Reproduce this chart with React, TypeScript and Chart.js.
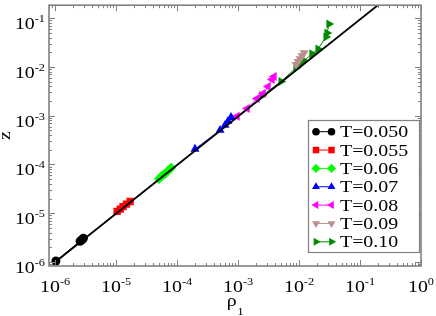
import React, { useEffect, useRef } from 'react';
import { Chart, registerables } from 'chart.js';

Chart.register(...registerables);

// axis ranges (log scales)
const xMin = 7.94e-7; // 10^-6.1
const xMax = 1;
const yMin = 8.3e-7; // 10^-6.08
const yMax = 0.184; // 10^-0.735

const xDecades = [-6, -5, -4, -3, -2, -1, 0];
const yDecades = [-6, -5, -4, -3, -2, -1];

const seriesLabels = ['T=0.050', 'T=0.055', 'T=0.06', 'T=0.07', 'T=0.08', 'T=0.09', 'T=0.10'];
const seriesColors = ['#000000', '#ff0000', '#00ff00', '#0000ff', '#ff00ff', '#bc8f8f', '#008b00'];
const seriesStyles = ['circle', 'rect', 'rectRot', 'triangle', 'triangle', 'triangle', 'triangle'];
const seriesRotations = [0, 0, 0, 0, -90, 180, 90];

const rhoT050 = [1.03e-6, 2.57e-6, 2.68e-6, 2.8e-6, 2.91e-6];
const zT050 = [1.05e-6, 2.67e-6, 2.8e-6, 2.93e-6, 3.07e-6];

const rhoT055 = [1.04e-5, 1.17e-5, 1.3e-5, 1.48e-5, 1.7e-5];
const zT055 = [1.09e-5, 1.22e-5, 1.37e-5, 1.54e-5, 1.74e-5];

const rhoT060 = [5.07e-5, 5.68e-5, 6.36e-5, 7.11e-5, 7.97e-5];
const zT060 = [5.1e-5, 5.86e-5, 6.44e-5, 7.41e-5, 8.53e-5];

const rhoT070 = [1.97e-4, 5.07e-4, 6.12e-4, 6.86e-4, 7.67e-4];
const zT070 = [2.07e-4, 5.05e-4, 6.38e-4, 7.69e-4, 9.27e-4];

const rhoT080 = [9.63e-4, 1.41e-3, 2.05e-3, 2.57e-3, 3.1e-3, 3.61e-3, 3.89e-3];
const zT080 = [9.72e-4, 1.41e-3, 2.26e-3, 2.85e-3, 3.96e-3, 5.5e-3, 6.33e-3];

const rhoT090 = [8.93e-3, 9.64e-3, 1.04e-2, 1.12e-2, 1.21e-2];
const zT090 = [1.11e-2, 1.28e-2, 1.47e-2, 1.69e-2, 1.95e-2];

const rhoT100 = [2.47e-3, 5.07e-3, 8.93e-3, 1.08e-2, 1.21e-2, 1.63e-2, 2.05e-2, 2.77e-2, 2.88e-2, 3.1e-2];
const zT100 = [2.6e-3, 5.0e-3, 9.64e-3, 1.22e-2, 1.34e-2, 1.85e-2, 2.34e-2, 4.11e-2, 4.95e-2, 7.55e-2];

const fitRho = [1.03e-6, 1];
const fitZ = [1.03e-6, 0.93];

const seriesRho = [rhoT050, rhoT055, rhoT060, rhoT070, rhoT080, rhoT090, rhoT100];
const seriesZ = [zT050, zT055, zT060, zT070, zT080, zT090, zT100];

const FONT = '"Liberation Serif", serif';
const FRAME = '#808080';
const SX = 1.17; // horizontal text stretch seen in the reference

function markerRadius(style: string, legend: boolean) {
  if (style === 'circle') return legend ? 3.8 : 4.5;
  return legend ? 4.6 : 5.2;
}

function drawMarker(ctx: CanvasRenderingContext2D, style: string, rotDeg: number, x: number, y: number, r: number, color: string) {
  ctx.save();
  ctx.fillStyle = color;
  ctx.beginPath();
  if (style === 'circle') {
    ctx.arc(x, y, r, 0, Math.PI * 2);
  } else if (style === 'rect') {
    const s = Math.SQRT1_2 * r;
    ctx.rect(x - s, y - s, 2 * s, 2 * s);
  } else if (style === 'rectRot') {
    ctx.moveTo(x, y - r);
    ctx.lineTo(x + r, y);
    ctx.lineTo(x, y + r);
    ctx.lineTo(x - r, y);
    ctx.closePath();
  } else {
    let rad = (rotDeg * Math.PI) / 180;
    ctx.moveTo(x + Math.sin(rad) * r, y - Math.cos(rad) * r);
    rad += (2 * Math.PI) / 3;
    ctx.lineTo(x + Math.sin(rad) * r, y - Math.cos(rad) * r);
    rad += (2 * Math.PI) / 3;
    ctx.lineTo(x + Math.sin(rad) * r, y - Math.cos(rad) * r);
    ctx.closePath();
  }
  ctx.fill();
  ctx.restore();
}

function textW(ctx: CanvasRenderingContext2D, t: string, size: number) {
  ctx.font = size + 'px ' + FONT;
  return ctx.measureText(t).width * SX;
}

function drawText(ctx: CanvasRenderingContext2D, t: string, x: number, y: number, size: number) {
  ctx.save();
  ctx.font = size + 'px ' + FONT;
  ctx.textAlign = 'left';
  ctx.textBaseline = 'alphabetic';
  ctx.fillStyle = '#000';
  ctx.translate(x, y);
  ctx.scale(SX, 1);
  ctx.fillText(t, 0, 0);
  ctx.restore();
}

const BIG = 17;
const SMALL = 10.5;

const decorPlugin = {
  id: 'decor',
  afterDraw(chart: any) {
    const { ctx, chartArea: a, scales } = chart;
    const xs = scales.x;
    const ys = scales.y;
    ctx.save();

    // ticks (inward, all four sides)
    ctx.strokeStyle = FRAME;
    ctx.lineWidth = 1;
    ctx.beginPath();
    for (let d = -7; d <= 0; d++) {
      for (let m = 1; m <= 9; m++) {
        const v = m * Math.pow(10, d);
        const len = m === 1 ? 6 : 3;
        if (v >= xMin && v <= xMax) {
          const px = Math.round(xs.getPixelForValue(v)) + 0.5;
          ctx.moveTo(px, a.bottom);
          ctx.lineTo(px, a.bottom - len);
          ctx.moveTo(px, a.top);
          ctx.lineTo(px, a.top + len);
        }
        if (v >= yMin && v <= yMax) {
          const py = Math.round(ys.getPixelForValue(v)) + 0.5;
          ctx.moveTo(a.left, py);
          ctx.lineTo(a.left + len, py);
          ctx.moveTo(a.right, py);
          ctx.lineTo(a.right - len, py);
        }
      }
    }
    ctx.stroke();

    // frame
    ctx.lineWidth = 1.6;
    ctx.strokeRect(a.left, a.top, a.right - a.left, a.bottom - a.top);

    // tick labels
    xDecades.forEach((d) => {
      const px = xs.getPixelForValue(Math.pow(10, d));
      const e = String(d);
      const w1 = textW(ctx, '10', BIG);
      const w2 = textW(ctx, e, SMALL);
      const x0 = px - (w1 + w2) / 2;
      drawText(ctx, '10', x0, 291.5, BIG);
      drawText(ctx, e, x0 + w1, 285, SMALL);
    });
    yDecades.forEach((d) => {
      const py = ys.getPixelForValue(Math.pow(10, d));
      const e = String(d);
      const w1 = textW(ctx, '10', BIG);
      const w2 = textW(ctx, e, SMALL);
      const xr = a.left - 4;
      drawText(ctx, '10', xr - w2 - w1, py + 11, BIG);
      drawText(ctx, e, xr - w2, py + 4, SMALL);
    });

    // axis titles
    const wr = textW(ctx, '\u03c1', BIG);
    const ws = textW(ctx, '1', 11);
    const tx = (a.left + a.right) / 2 - (wr + ws) / 2;
    drawText(ctx, '\u03c1', tx, 306, BIG);
    drawText(ctx, '1', tx + wr + 0.5, 315, 11);

    ctx.save();
    ctx.translate(10, (a.top + a.bottom) / 2);
    ctx.rotate(-Math.PI / 2);
    const wz = textW(ctx, 'z', BIG);
    drawText(ctx, 'z', -wz / 2, 0, BIG);
    ctx.restore();

    // legend
    const lx = 308, ly = 120, lw = 111, lh = 132;
    ctx.fillStyle = '#fff';
    ctx.fillRect(lx, ly, lw, lh);
    ctx.strokeStyle = FRAME;
    ctx.lineWidth = 1.2;
    ctx.strokeRect(lx + 0.5, ly + 0.5, lw, lh);
    seriesLabels.forEach((label, i) => {
      const cy = 131.7 + i * 18.35;
      const color = seriesColors[i];
      ctx.strokeStyle = color;
      ctx.lineWidth = 1;
      ctx.beginPath();
      ctx.moveTo(316, cy);
      ctx.lineTo(331.5, cy);
      ctx.stroke();
      const r = markerRadius(seriesStyles[i], true);
      drawMarker(ctx, seriesStyles[i], seriesRotations[i], 316, cy, r, color);
      drawMarker(ctx, seriesStyles[i], seriesRotations[i], 331.5, cy, r, color);
      drawText(ctx, label, 340, cy + 5.5, BIG);
    });

    ctx.restore();
  },
};

export default function App() {
  const canvasRef = useRef<HTMLCanvasElement | null>(null);

  useEffect(() => {
    const canvas = canvasRef.current;
    if (!canvas) return;

    const datasets: any[] = [
      {
        label: 'fit',
        data: fitRho.map((x, i) => ({ x, y: fitZ[i] })),
        showLine: true,
        borderColor: '#000',
        borderWidth: 1.8,
        pointRadius: 0,
        order: 0,
        clip: 0,
      },
    ];
    seriesLabels.forEach((label, i) => {
      datasets.push({
        label,
        data: seriesRho[i].map((x, j) => ({ x, y: seriesZ[i][j] })),
        showLine: true,
        borderColor: seriesColors[i],
        backgroundColor: seriesColors[i],
        borderWidth: 1,
        pointStyle: seriesStyles[i],
        pointRotation: seriesRotations[i],
        pointRadius: markerRadius(seriesStyles[i], false),
        pointBorderWidth: 0,
        pointBackgroundColor: seriesColors[i],
        pointBorderColor: seriesColors[i],
        order: i + 1,
        clip: 0,
      });
    });

    const chart = new Chart(canvas, {
      type: 'scatter',
      data: { datasets },
      options: {
        animation: false,
        responsive: false,
        maintainAspectRatio: false,
        layout: { padding: { left: 49, top: 3, right: 15, bottom: 50 } },
        plugins: {
          legend: { display: false },
          tooltip: { enabled: false },
        },
        scales: {
          x: { type: 'logarithmic', min: xMin, max: xMax, display: false },
          y: { type: 'logarithmic', min: yMin, max: yMax, display: false },
        },
      },
      plugins: [decorPlugin],
    });

    return () => chart.destroy();
  }, []);

  return (
    <div style={{ position: 'absolute', left: 0, top: 0, width: 436, height: 316, background: '#fff' }}>
      <canvas ref={canvasRef} width={436} height={316} style={{ display: 'block' }} />
    </div>
  );
}
